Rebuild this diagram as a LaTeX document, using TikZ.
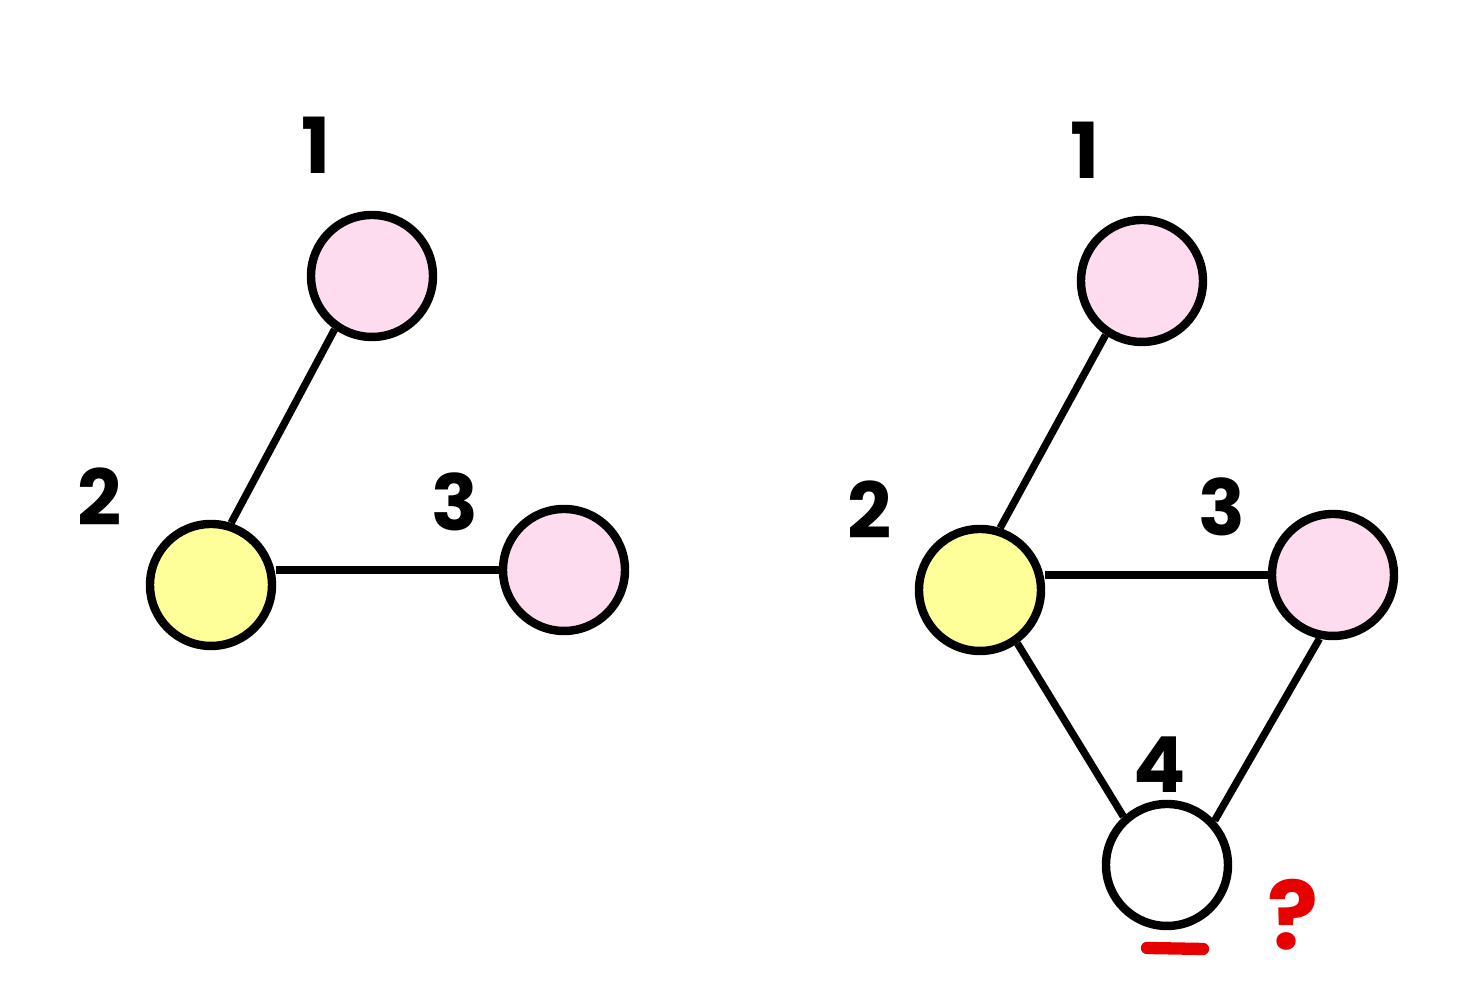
\documentclass[tikz,border=0pt]{standalone}
\usepackage{fontspec}
\setmainfont{Poppins}
\usetikzlibrary{arrows,shapes}
\definecolor{vpink}{HTML}{FDDCEF}
\definecolor{vyellow}{HTML}{FFFF99}
\definecolor{mred}{HTML}{E60000}
\tikzstyle{vert}=[circle,draw=black,line width=2.4pt,minimum size=12.2mm,inner sep=0pt]
\tikzstyle{lbl}=[font=\fontsize{22}{26}\selectfont\bfseries]
\tikzstyle{ugraph}=[line width=2.1pt]

\begin{document}
\begin{tikzpicture}[ugraph]
\useasboundingbox (0,0) rectangle (14.65,10);
% left graph
\node[vert,fill=vpink] (L1) at (3.72,7.24) {};
\node[vert,fill=vyellow] (L2) at (2.11,4.15) {};
\node[vert,fill=vpink] (L3) at (5.64,4.30) {};
\node[lbl] (l1) at (3.16,8.55) {1};
\node[lbl] (l2) at (1.00,5.03) {2};
\node[lbl] (l3) at (4.55,4.98) {3};
\draw (L1.-125)--(L2.72);\draw (L3)--(L3 -| L2.east);
% right graph
\node[vert,fill=vpink] (R1) at (11.42,7.19) {};
\node[vert,fill=vyellow] (R2) at (9.80,4.10) {};
\node[vert,fill=vpink] (R3) at (13.33,4.25) {};
\node[vert,fill=white] (R4) at (11.67,1.35) {};
\node[lbl] (r1) at (10.85,8.50) {1};
\node[lbl] (r2) at (8.70,4.90) {2};
\node[lbl] (r3) at (12.22,4.93) {3};
\node[lbl] (r4) at (11.60,2.35) {4};
\draw (R1.-124)--(R2.72);\draw (R3)--(R3 -| R2.east);
\draw (R2.-55)--(R4.132);\draw (R3.-102)--(R4.43);
\coordinate (m1) at (11.47,0.52);
\coordinate (m2) at (12.03,0.51);
\draw[mred,line width=3.5pt,line cap=round] (m1)--(m2);
\node[lbl,text=mred,font=\fontsize{27}{30}\selectfont\bfseries] (q) at (12.93,0.85) {?};
\end{tikzpicture}
\end{document}
